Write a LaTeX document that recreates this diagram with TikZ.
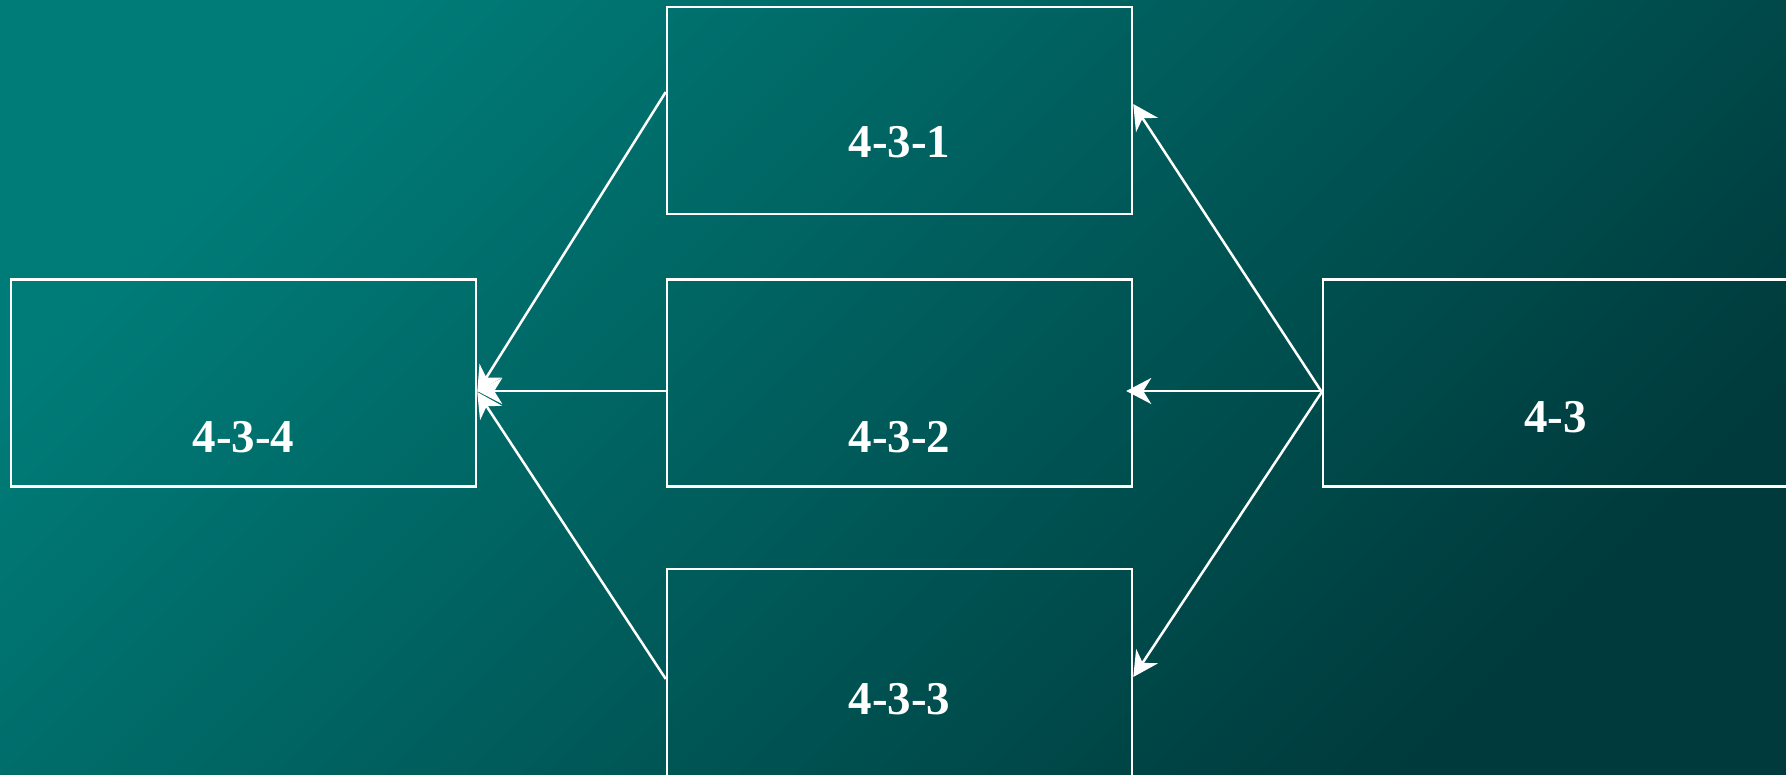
\documentclass[tikz,border=0pt]{standalone}
\usepackage{fontspec}
\setmainfont{Liberation Serif}
\usetikzlibrary{arrows.meta}
\definecolor{bgA}{HTML}{007C78}
\definecolor{bgB}{HTML}{003A3C}
\tikzset{
  box/.style={draw=white, line width=2.5pt, minimum width=465pt, minimum height=207pt, inner sep=0pt},
  lbl/.style={text=white, font=\fontsize{47}{50}\selectfont\bfseries, anchor=base, inner sep=0pt},
  conn/.style={draw=white, line width=2.5pt, -{Stealth[length=25pt,width=26pt,inset=8pt]}}
}
\begin{document}
\begin{tikzpicture}[x=1pt,y=-1pt]
\useasboundingbox (0,0) rectangle (1786,774);
\shade[top color=bgA, bottom color=bgB, shading angle=45] (0,0) rectangle (1786,774);
\clip (0,0) rectangle (1786,774);
\node[box] (b431) at (899.5,110.5) {};
\node[box] (b432) at (899.5,383) {};
\node[box] (b433) at (899.5,672.5) {};
\node[box] (b434) at (243.5,383) {};
\node[box] (b43) at (1555.5,383) {};
\node[lbl] (t431) at (899.5,157) {4-3-1};
\node[lbl] (t432) at (899.5,452) {4-3-2};
\node[lbl] (t433) at (899.5,714) {4-3-3};
\node[lbl] (t434) at (243.5,452) {4-3-4};
\node[lbl] (t43) at (1555.5,432) {4-3};
\draw[conn] ([yshift=-9pt]b43.west) -- ([yshift=6.5pt]b431.east);
\draw[conn] ([yshift=-8pt]b43.west) -- ([xshift=-7pt,yshift=-8pt]b432.east);
\draw[conn] ([yshift=-9pt]b43.west) -- ([yshift=-4.5pt]b433.east);
\draw[conn] ([yshift=18.5pt]b431.west) -- ([yshift=-9pt]b434.east);
\draw[conn] ([yshift=-8pt]b432.west) -- ([yshift=-8pt]b434.east);
\draw[conn] ([yshift=-6.5pt]b433.west) -- ([yshift=-9pt]b434.east);
\end{tikzpicture}
\end{document}
